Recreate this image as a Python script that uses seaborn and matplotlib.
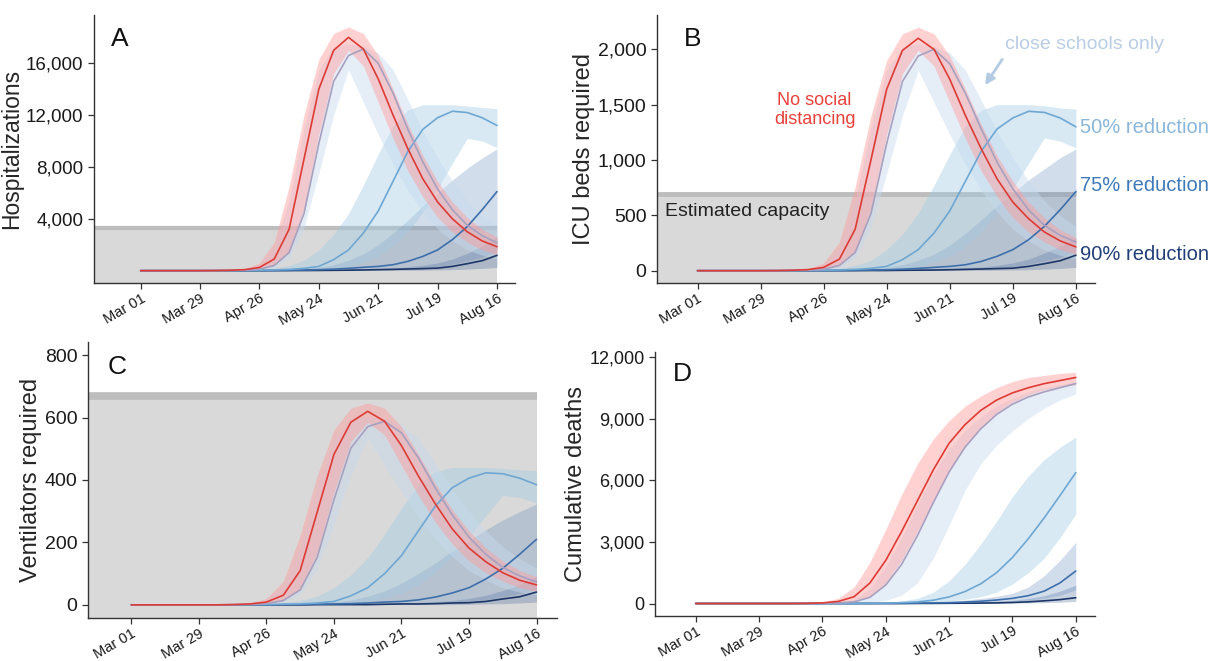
import matplotlib
matplotlib.use('Agg')
import matplotlib.pyplot as plt
import matplotlib.dates as mdates
import seaborn as sns
import pandas as pd

sns.set_theme(style='ticks')
plt.rcParams['font.family'] = ['Liberation Sans', 'DejaVu Sans']

# ---------------- data (weekly values, Mar 01 .. Aug 16, 2020) ----------------
START = '2020-03-01'
DAY_OFFSETS = [0, 7, 14, 21, 28, 35, 42, 49, 56, 63, 70, 77, 84, 91, 98, 105,
               112, 119, 126, 133, 140, 147, 154, 161, 168]
TICK_DAYS = [0, 28, 56, 84, 112, 140, 168]
TICK_LABELS = ['Mar 01', 'Mar 29', 'Apr 26', 'May 24', 'Jun 21', 'Jul 19', 'Aug 16']
SCENARIOS = ['No social distancing', 'close schools only', '50% reduction',
             '75% reduction', '90% reduction']

# Panel A: hospitalizations
HOSP_RED = [0,0,0,0,0,10,30,80,250,900,3200,8600,14000,17000,18000,17100,14800,12000,9400,7100,5300,4000,3000,2300,1850]
HOSP_RED_HI = [0,0,0,0,0,20,60,150,600,2200,6500,12000,16300,18300,18800,18300,16600,14000,11300,8900,6900,5300,4100,3200,2600]
HOSP_RED_LO = [0,0,0,0,0,0,10,30,100,400,1500,4800,10500,15200,17000,15800,13000,10200,7700,5700,4100,3000,2200,1600,1250]
HOSP_CS = [0,0,0,0,0,5,15,40,120,400,1400,4400,9800,14600,16600,17100,16000,13700,10900,8400,6300,4700,3500,2700,2150]
HOSP_CS_HI = [0,0,0,0,0,10,30,100,450,1800,5500,11000,15500,17300,17500,17300,16800,15500,13200,10800,8700,6900,5400,4300,3400]
HOSP_CS_LO = [0,0,0,0,0,0,5,20,60,200,1000,3300,7500,12000,15500,13000,10500,8200,6200,4500,3200,2300,1600,1200,900]
HOSP_50 = [0,0,0,0,0,0,5,15,30,60,100,180,330,850,1600,2900,4600,6900,9200,10900,11800,12300,12200,11800,11200]
HOSP_50_HI = [0,0,0,0,0,5,20,50,100,200,400,800,1600,2800,4400,6600,9000,11200,12400,12800,12800,12800,12700,12600,12500]
HOSP_50_LO = [0,0,0,0,0,0,0,5,10,20,40,70,120,200,350,650,1100,1900,3000,4500,6300,8300,10200,10000,9500]
HOSP_75 = [0,0,0,0,0,0,0,5,10,20,30,50,80,120,180,260,330,460,720,1100,1600,2400,3400,4700,6100]
HOSP_75_HI = [0,0,0,0,0,0,5,10,30,60,100,170,250,450,800,1300,2000,2900,3900,5000,6000,7000,7900,8700,9400]
HOSP_75_LO = [0,0,0,0,0,0,0,0,0,5,10,15,20,30,40,50,60,90,140,220,330,500,750,1050,1500]
HOSP_90 = [0,0,0,0,0,0,0,0,5,8,12,15,20,30,40,55,80,100,130,160,200,330,540,770,1180]
HOSP_90_HI = [0,0,0,0,0,0,0,5,10,15,25,35,50,60,80,110,150,220,300,420,600,900,1350,1900,2600]
HOSP_90_LO = [0,0,0,0,0,0,0,0,0,0,0,5,5,10,10,15,20,25,30,40,60,80,120,180,250]

# Panel B: ICU beds
ICU_RED = [0,0,0,0,0,1,4,10,30,105,375,1000,1640,1990,2100,2000,1730,1400,1100,830,620,470,350,270,215]
ICU_RED_HI = [0,0,0,0,0,2,7,18,70,260,760,1400,1900,2140,2200,2140,1940,1640,1320,1040,810,620,480,370,300]
ICU_RED_LO = [0,0,0,0,0,0,1,4,12,47,175,560,1230,1780,1990,1850,1520,1190,900,670,480,350,260,190,150]
ICU_CS = [0,0,0,0,0,1,2,5,14,47,165,515,1150,1710,1940,2000,1870,1600,1280,980,740,550,410,320,260]
ICU_CS_HI = [0,0,0,0,0,1,4,12,53,210,640,1290,1810,2020,2050,2020,1970,1810,1540,1260,1020,810,630,500,400]
ICU_CS_LO = [0,0,0,0,0,0,1,2,7,23,117,386,880,1400,1810,1520,1230,960,725,530,375,270,190,140,105]
ICU_50 = [0,0,0,0,0,0,1,2,4,7,12,21,39,100,190,340,540,810,1080,1280,1380,1440,1430,1380,1300]
ICU_50_HI = [0,0,0,0,0,1,2,6,12,23,47,94,190,330,520,770,1050,1310,1450,1500,1500,1500,1490,1470,1460]
ICU_50_LO = [0,0,0,0,0,0,0,1,1,2,5,8,14,23,41,76,130,220,350,530,740,970,1200,1170,1110]
ICU_75 = [0,0,0,0,0,0,0,1,1,2,4,6,9,14,21,30,39,54,84,130,190,280,400,550,715]
ICU_75_HI = [0,0,0,0,0,0,1,1,4,7,12,20,29,53,94,150,230,340,460,590,700,820,920,1020,1100]
ICU_75_LO = [0,0,0,0,0,0,0,0,0,1,1,2,2,4,5,6,7,11,16,26,39,59,88,123,175]
ICU_90 = [0,0,0,0,0,0,0,0,1,1,1,2,2,4,5,6,9,12,15,19,23,39,63,90,140]
ICU_90_HI = [0,0,0,0,0,0,0,1,1,2,3,4,6,7,9,13,18,26,35,49,70,105,160,220,300]
ICU_90_LO = [0,0,0,0,0,0,0,0,0,0,0,1,1,1,1,2,2,3,4,5,7,9,14,21,30]

# Panel C: ventilators
VENT_RED = [0,0,0,0,0,0,1,3,9,31,110,296,482,585,620,588,510,413,324,244,182,138,103,79,64]
VENT_RED_HI = [0,0,0,0,0,1,2,5,21,76,224,413,561,630,647,630,571,482,389,306,237,182,141,110,90]
VENT_RED_LO = [0,0,0,0,0,0,0,1,3,14,52,165,361,523,585,544,447,351,265,196,141,103,76,55,43]
VENT_CS = [0,0,0,0,0,0,1,1,4,14,48,151,337,502,571,588,551,471,375,289,217,162,120,93,74]
VENT_CS_HI = [0,0,0,0,0,0,1,3,15,62,189,378,533,595,602,595,578,533,454,372,299,237,186,148,117]
VENT_CS_LO = [0,0,0,0,0,0,0,1,2,7,34,114,258,413,533,447,361,282,213,155,110,79,55,41,31]
VENT_50 = [0,0,0,0,0,0,0,1,1,2,3,6,11,29,55,100,158,237,316,375,406,423,420,406,385]
VENT_50_HI = [0,0,0,0,0,0,1,2,3,7,14,28,55,96,151,227,310,385,427,440,440,440,437,433,430]
VENT_50_LO = [0,0,0,0,0,0,0,0,0,1,1,2,4,7,12,22,38,65,103,155,217,286,351,344,327]
VENT_75 = [0,0,0,0,0,0,0,0,0,1,1,2,3,4,6,9,11,16,25,38,55,83,117,162,210]
VENT_75_HI = [0,0,0,0,0,0,0,0,1,2,3,6,9,15,28,45,69,100,134,172,206,241,272,299,323]
VENT_75_LO = [0,0,0,0,0,0,0,0,0,0,0,1,1,1,1,2,2,3,5,8,11,17,26,36,52]
VENT_90 = [0,0,0,0,0,0,0,0,0,0,0,1,1,1,1,2,3,3,4,6,7,11,19,26,41]
VENT_90_HI = [0,0,0,0,0,0,0,0,0,1,1,1,2,2,3,4,5,8,10,14,21,31,46,65,90]
VENT_90_LO = [0,0,0,0,0,0,0,0,0,0,0,0,0,0,0,1,1,1,1,1,2,3,4,6,9]

# Panel D: cumulative deaths
DEATH_RED = [0,0,0,0,0,0,0,5,30,100,330,1000,2100,3500,5000,6500,7800,8700,9400,9900,10250,10500,10700,10850,11000]
DEATH_RED_HI = [0,0,0,0,0,0,5,15,80,250,800,2000,3600,5300,6800,8000,8900,9600,10100,10500,10800,11000,11100,11200,11250]
DEATH_RED_LO = [0,0,0,0,0,0,0,0,5,30,100,350,1000,2100,3500,5000,6500,7700,8600,9300,9800,10150,10400,10550,10650]
DEATH_CS = [0,0,0,0,0,0,0,0,10,30,80,300,900,1900,3300,4900,6400,7600,8500,9200,9700,10050,10300,10500,10700]
DEATH_CS_HI = [0,0,0,0,0,0,0,5,20,70,200,700,1800,3200,4800,6300,7500,8400,9100,9600,10000,10300,10500,10650,10800]
DEATH_CS_LO = [0,0,0,0,0,0,0,0,0,5,15,50,150,400,1000,2200,3800,5500,6800,7700,8400,9000,9500,9900,10200]
DEATH_50 = [0,0,0,0,0,0,0,0,0,0,5,10,20,40,80,160,320,580,960,1500,2240,3150,4160,5250,6370]
DEATH_50_HI = [0,0,0,0,0,0,0,0,0,5,10,30,60,130,250,550,1100,1900,2900,4000,5200,6200,7000,7600,8100]
DEATH_50_LO = [0,0,0,0,0,0,0,0,0,0,0,0,5,10,30,60,100,200,330,550,950,1500,2200,3200,4350]
DEATH_75 = [0,0,0,0,0,0,0,0,0,0,0,0,5,10,20,30,40,70,110,170,250,380,600,1000,1580]
DEATH_75_HI = [0,0,0,0,0,0,0,0,0,0,0,5,10,20,40,70,100,170,250,350,500,800,1350,2100,2980]
DEATH_75_LO = [0,0,0,0,0,0,0,0,0,0,0,0,0,0,0,0,5,10,30,50,90,150,250,400,650]
DEATH_90 = [0,0,0,0,0,0,0,0,0,0,0,0,0,0,5,5,10,15,20,30,50,80,130,190,280]
DEATH_90_HI = [0,0,0,0,0,0,0,0,0,0,0,0,0,5,10,20,30,50,80,110,150,250,380,600,900]
DEATH_90_LO = [0,0,0,0,0,0,0,0,0,0,0,0,0,0,0,0,0,5,5,10,20,30,40,60,100]

CAPACITY = {'A': 3320, 'B': 690, 'C': 668}

# ---------------- styling ----------------
LINE_COLORS = ['#de3b35', '#a8a0bf', '#6ea7d3', '#3d70ab', '#1d3769']
BAND_COLORS = ['#ff9a9a', '#c6dbef', '#9ecae1', '#6a8fc0', '#4a6a9a']
BAND_ALPHA = [0.45, 0.45, 0.40, 0.30, 0.30]
W, H = 1211, 661

dates = pd.to_datetime(START) + pd.to_timedelta(DAY_OFFSETS, unit='D')
d0 = pd.to_datetime(START)


def day(n):
    return d0 + pd.Timedelta(days=n)


panels = [
    dict(letter='A', box=(94, 15, 515, 283), xl=-22, ylim=(-950, 19725), yticks=[4000, 8000, 12000, 16000],
         ylabel='Hospitalizations', ylsize=16.5, ytsize=13.5,
         series=[(HOSP_RED, HOSP_RED_LO, HOSP_RED_HI), (HOSP_CS, HOSP_CS_LO, HOSP_CS_HI),
                 (HOSP_50, HOSP_50_LO, HOSP_50_HI), (HOSP_75, HOSP_75_LO, HOSP_75_HI),
                 (HOSP_90, HOSP_90_LO, HOSP_90_HI)], cap=CAPACITY['A'], capw=3.0, lx=0.04, ly=0.955),
    dict(letter='B', box=(657, 15, 1095, 283), xl=-18, ylim=(-111, 2310), yticks=[0, 500, 1000, 1500, 2000],
         ylabel='ICU beds required', ylsize=17, ytsize=14,
         series=[(ICU_RED, ICU_RED_LO, ICU_RED_HI), (ICU_CS, ICU_CS_LO, ICU_CS_HI),
                 (ICU_50, ICU_50_LO, ICU_50_HI), (ICU_75, ICU_75_LO, ICU_75_HI),
                 (ICU_90, ICU_90_LO, ICU_90_HI)], cap=CAPACITY['B'], capw=3.5, lx=0.062, ly=0.956),
    dict(letter='C', box=(88, 342, 557, 618), xl=-18, ylim=(-42, 842), yticks=[0, 200, 400, 600, 800],
         ylabel='Ventilators required', ylsize=17, ytsize=14,
         series=[(VENT_RED, VENT_RED_LO, VENT_RED_HI), (VENT_CS, VENT_CS_LO, VENT_CS_HI),
                 (VENT_50, VENT_50_LO, VENT_50_HI), (VENT_75, VENT_75_LO, VENT_75_HI),
                 (VENT_90, VENT_90_LO, VENT_90_HI)], cap=CAPACITY['C'], capw=5.5, lx=0.041, ly=0.952),
    dict(letter='D', box=(655, 352, 1095, 616), xl=-18, ylim=(-608, 12240), yticks=[0, 3000, 6000, 9000, 12000],
         ylabel='Cumulative deaths', ylsize=17, ytsize=13,
         series=[(DEATH_RED, DEATH_RED_LO, DEATH_RED_HI), (DEATH_CS, DEATH_CS_LO, DEATH_CS_HI),
                 (DEATH_50, DEATH_50_LO, DEATH_50_HI), (DEATH_75, DEATH_75_LO, DEATH_75_HI),
                 (DEATH_90, DEATH_90_LO, DEATH_90_HI)], cap=None, capw=0, lx=0.04, ly=0.963),
]

fig = plt.figure(figsize=(W / 100, H / 100), dpi=100)
fig.patch.set_facecolor('white')

for p in panels:
    x0, y0, x1, y1 = p['box']
    ax = fig.add_axes([x0 / W, 1 - y1 / H, (x1 - x0) / W, (y1 - y0) / H])
    xmin, xmax = day(p['xl']), day(176.5)
    ax.set_xlim(xmin, xmax)
    ax.set_ylim(*p['ylim'])

    if p['cap'] is not None:
        ax.fill_between([xmin, day(168)], p['ylim'][0], p['cap'], color='#d9d9d9', lw=0, zorder=0.5)
        ax.plot([xmin, day(168)], [p['cap'], p['cap']], color='#bdbdbd', lw=p['capw'],
                solid_capstyle='butt', zorder=0.6)

    # uncertainty bands (drawn from the 90% scenario up to the red one)
    for i in [4, 3, 2, 1, 0]:
        mid, lo, hi = p['series'][i]
        ax.fill_between(dates, lo, hi, color=BAND_COLORS[i], alpha=BAND_ALPHA[i], lw=0, zorder=1)

    rows = []
    for i, (mid, lo, hi) in enumerate(p['series']):
        for d, v in zip(dates, mid):
            rows.append((SCENARIOS[i], d, v))
    df = pd.DataFrame(rows, columns=['scenario', 'date', 'value'])
    sns.lineplot(data=df, x='date', y='value', hue='scenario', hue_order=SCENARIOS[::-1],
                 palette=dict(zip(SCENARIOS, LINE_COLORS)), legend=False, ax=ax, lw=1.2,
                 zorder=2)

    ax.set_xticks([day(d) for d in TICK_DAYS])
    ax.set_xticklabels(TICK_LABELS, rotation=30, ha='right', rotation_mode='anchor', fontsize=10.5)
    ax.set_yticks(p['yticks'])
    ax.set_yticklabels([f'{t:,}' for t in p['yticks']], fontsize=p['ytsize'])
    ax.set_xlabel('')
    ax.set_ylabel(p['ylabel'], fontsize=p['ylsize'], labelpad=2)
    for s in ['top', 'right']:
        ax.spines[s].set_visible(False)
    for s in ['left', 'bottom']:
        ax.spines[s].set_color('#333333')
        ax.spines[s].set_linewidth(1.0)
    ax.tick_params(axis='both', colors='#333333', length=4, width=0.9, labelcolor='#1a1a1a')
    ax.tick_params(axis='x', pad=2)
    ax.set_facecolor('none')
    ax.text(p['lx'], p['ly'], p['letter'], transform=ax.transAxes, fontsize=19, va='top',
            ha='left', color='#111111')

    if p['letter'] == 'B':
        ax.text(day(52), 1450, 'No social\ndistancing', color='#e8413a', fontsize=13,
                ha='center', va='center', linespacing=1.15)
        ax.text(day(-14.5), 535, 'Estimated capacity', color='#222222', fontsize=14,
                ha='left', va='center')
        ax.text(day(172), 2045, 'close schools only', color='#b9cde5', fontsize=14,
                ha='center', va='center', clip_on=False)
        ax.annotate('', xy=(mdates.date2num(day(127)), 1656),
                    xytext=(mdates.date2num(day(136)), 1930),
                    arrowprops=dict(arrowstyle='-|>', color='#b3cbe3', lw=2, mutation_scale=14),
                    annotation_clip=False)
        ax.text(day(169.8), 1290, '50% reduction', color='#8ab6da', fontsize=14.5,
                ha='left', va='center', clip_on=False)
        ax.text(day(169.8), 770, '75% reduction', color='#3f7ab8', fontsize=14.5,
                ha='left', va='center', clip_on=False)
        ax.text(day(169.8), 144, '90% reduction', color='#213e78', fontsize=14.5,
                ha='left', va='center', clip_on=False)

fig.savefig('out.png', dpi=100, facecolor='white')
